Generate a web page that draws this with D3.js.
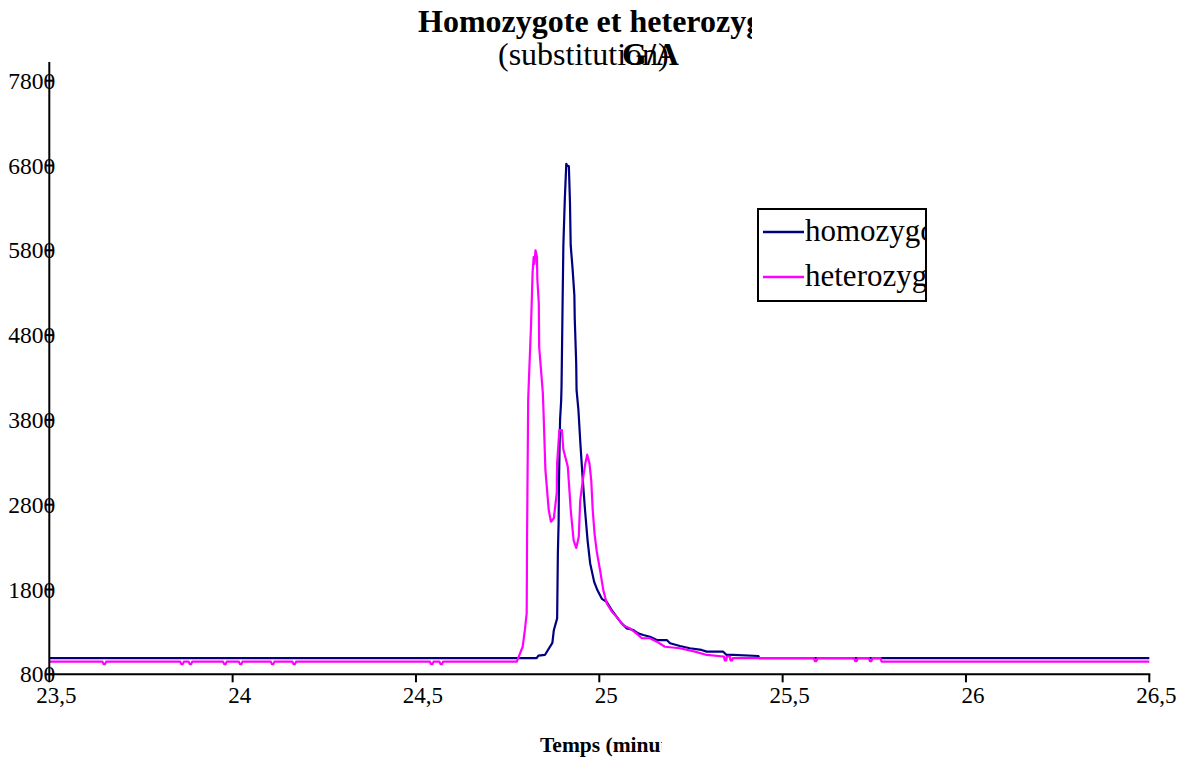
<!DOCTYPE html>
<html><head><meta charset="utf-8">
<script src="https://cdn.jsdelivr.net/npm/d3@7"></script>
<style>
html,body{margin:0;padding:0;background:#fff;}
svg{display:block;}
text{font-family:"Liberation Serif","Times New Roman",serif;fill:#000;}
</style></head>
<body>
<svg id="chart" width="1189" height="759"></svg>
<script>
// ---------- data ----------
const titleLine1 = "Homozygote et heterozygote";
const titleLine2 = "(substitution)";
const titleBold2 = "G/A";
const xTitle = "Temps (minutes)";
const seriesNames = ["homozygote", "heterozygote"];
const seriesColors = ["#000080", "#FF00FF"];
const xTicks = [23.5, 24, 24.5, 25, 25.5, 26, 26.5];
const yTicks = [800, 1800, 2800, 3800, 4800, 5800, 6800, 7800];

const homoTime = [23.5, 24.829, 24.834, 24.852, 24.872, 24.876, 24.885, 24.887, 24.889, 24.890,
  24.893, 24.896, 24.897, 24.898, 24.900, 24.902, 24.906, 24.910, 24.912, 24.917,
  24.920, 24.922, 24.927, 24.932, 24.933, 24.937, 24.938, 24.943, 24.949, 24.955,
  24.961, 24.968, 24.975, 24.986, 24.995, 25.007, 25.020, 25.034, 25.047, 25.061,
  25.075, 25.093, 25.106, 25.120, 25.138, 25.157, 25.184, 25.193, 25.220, 25.247,
  25.279, 25.293, 25.338, 25.347, 25.365, 25.434, 25.436, 26.5];
const homoValue = [990, 990, 1020, 1030, 1170, 1320, 1460, 2230, 2580, 3060,
  3800, 4030, 4190, 4530, 5215, 5860, 6410, 6820, 6800, 6790,
  6370, 5860, 5590, 5270, 5000, 4470, 4150, 3920, 3480, 3090,
  2740, 2380, 2110, 1890, 1790, 1690, 1656, 1558, 1479, 1401,
  1342, 1322, 1283, 1263, 1243, 1204, 1204, 1166, 1134, 1107,
  1087, 1067, 1067, 1028, 1028, 1016, 990, 990];

const heteroTime = [23.5,
  23.645, 23.648, 23.652, 23.655,
  23.857, 23.860, 23.864, 23.867,
  23.880, 23.883, 23.887, 23.890,
  23.974, 23.977, 23.981, 23.984,
  24.017, 24.020, 24.024, 24.027,
  24.104, 24.107, 24.111, 24.114,
  24.163, 24.166, 24.170, 24.173,
  24.538, 24.541, 24.545, 24.548,
  24.564, 24.567, 24.571, 24.574,
  24.775, 24.791, 24.797, 24.802, 24.803, 24.806, 24.808, 24.814, 24.818, 24.821,
  24.823, 24.826, 24.830, 24.831, 24.835, 24.836, 24.846, 24.848, 24.853, 24.862,
  24.868, 24.876, 24.884, 24.885, 24.891, 24.898, 24.902, 24.914, 24.919, 24.922,
  24.930, 24.937, 24.944, 24.948, 24.955, 24.962, 24.967, 24.973, 24.978, 24.982,
  24.987, 24.993, 25.002, 25.011, 25.020, 25.034, 25.047, 25.065, 25.084, 25.102,
  25.116, 25.138, 25.157, 25.179, 25.220, 25.261, 25.293, 25.338,
  25.340, 25.342, 25.346, 25.348, 25.356, 25.358, 25.362, 25.364,
  25.585, 25.588, 25.592, 25.595,
  25.695, 25.698, 25.702, 25.705,
  25.735, 25.738, 25.742, 25.745,
  25.767, 25.770, 26.5];
const heteroValue = [950,
  950, 920, 920, 950,
  950, 920, 920, 950,
  950, 920, 920, 950,
  950, 920, 920, 950,
  950, 920, 920, 950,
  950, 920, 920, 950,
  950, 920, 920, 950,
  950, 920, 920, 950,
  950, 920, 920, 950,
  950, 1125, 1320, 1520, 2420, 4035, 4270, 4940, 5530, 5720,
  5640, 5800, 5720, 5460, 5180, 4660, 4120, 3880, 3210, 2740,
  2600, 2640, 2940, 3290, 3680, 3680, 3450, 3250, 2940, 2740,
  2380, 2290, 2420, 2850, 3090, 3290, 3390, 3290, 3090, 2740,
  2460, 2250, 2030, 1790, 1640, 1540, 1480, 1380, 1340, 1280,
  1225, 1225, 1185, 1125, 1107, 1067, 1028, 1010,
  1010, 965, 965, 1010, 1010, 965, 965, 990,
  990, 955, 955, 990,
  990, 955, 955, 990,
  990, 955, 955, 990,
  990, 950, 950];

// ---------- chart ----------
const svg = d3.select("#chart");
const W = 1189, H = 759;
const plot = {left: 49.3, right: 1149.3, top: 80.7, bottom: 674.3};

const x = d3.scaleLinear().domain([23.5, 26.5]).range([plot.left, plot.right]);
const y = d3.scaleLinear().domain([800, 7800]).range([plot.bottom, plot.top]);

svg.append("rect").attr("width", W).attr("height", H).attr("fill", "#fff");

const defs = svg.append("defs");
defs.append("clipPath").attr("id", "titleClip").append("rect")
  .attr("x", 0).attr("y", 0).attr("width", 752).attr("height", 90);
defs.append("clipPath").attr("id", "legendClip").append("rect")
  .attr("x", 758).attr("y", 209).attr("width", 168).attr("height", 92);
defs.append("clipPath").attr("id", "xTitleClip").append("rect")
  .attr("x", 0).attr("y", 720).attr("width", 662).attr("height", 39);

// series
const homo = homoTime.map((t, i) => [t, homoValue[i]]);
const hetero = heteroTime.map((t, i) => [t, heteroValue[i]]);
const line = d3.line().x(d => x(d[0])).y(d => y(d[1]));

svg.append("path").datum(homo).attr("d", line)
  .attr("fill", "none").attr("stroke", seriesColors[0]).attr("stroke-width", 2.2)
  .attr("stroke-linejoin", "round");
svg.append("path").datum(hetero).attr("d", line)
  .attr("fill", "none").attr("stroke", seriesColors[1]).attr("stroke-width", 2.2)
  .attr("stroke-linejoin", "round");

// y axis
const yAxis = svg.append("g");
yAxis.append("line").attr("x1", plot.left).attr("x2", plot.left)
  .attr("y1", 62).attr("y2", plot.bottom).attr("stroke", "#000").attr("stroke-width", 2);
yAxis.selectAll("line.tick").data(yTicks).enter().append("line")
  .attr("class", "tick")
  .attr("x1", plot.left - 4).attr("x2", plot.left + 4)
  .attr("y1", d => y(d)).attr("y2", d => y(d))
  .attr("stroke", "#000").attr("stroke-width", 2);
yAxis.selectAll("text").data(yTicks).enter().append("text")
  .attr("x", plot.left + 6).attr("y", d => y(d) + 8)
  .attr("text-anchor", "end").attr("font-size", 23.5)
  .text(d => d);

// x axis
const xAxis = svg.append("g");
xAxis.append("line").attr("x1", plot.left).attr("x2", plot.right + 1)
  .attr("y1", plot.bottom).attr("y2", plot.bottom).attr("stroke", "#000").attr("stroke-width", 2);
xAxis.selectAll("line.tick").data(xTicks).enter().append("line")
  .attr("class", "tick")
  .attr("x1", d => x(d)).attr("x2", d => x(d))
  .attr("y1", plot.bottom).attr("y2", plot.bottom + 8)
  .attr("stroke", "#000").attr("stroke-width", 2);
xAxis.selectAll("text").data(xTicks).enter().append("text")
  .attr("x", d => x(d) + 7).attr("y", 703)
  .attr("text-anchor", "middle").attr("font-size", 23)
  .text(d => String(d).replace(".", ","));

// x title
svg.append("g").attr("clip-path", "url(#xTitleClip)")
  .append("text").attr("x", 540).attr("y", 752)
  .attr("font-size", 21.5).attr("font-weight", "bold").text(xTitle);

// title
const tg = svg.append("g").attr("clip-path", "url(#titleClip)");
tg.append("text").attr("x", 418).attr("y", 32)
  .attr("font-size", 32).attr("font-weight", "bold").text(titleLine1);
tg.append("text").attr("x", 498).attr("y", 65)
  .attr("font-size", 32).text(titleLine2);
tg.append("text").attr("x", 622).attr("y", 65)
  .attr("font-size", 32).attr("font-weight", "bold").text(titleBold2);

// legend
const lg = svg.append("g");
lg.append("rect").attr("x", 758).attr("y", 209).attr("width", 168).attr("height", 92)
  .attr("fill", "#fff").attr("stroke", "#000").attr("stroke-width", 2);
const lc = lg.append("g").attr("clip-path", "url(#legendClip)");
seriesNames.forEach((name, i) => {
  const ly = 232 + i * 45;
  lc.append("line").attr("x1", 763).attr("x2", 804).attr("y1", ly).attr("y2", ly)
    .attr("stroke", seriesColors[i]).attr("stroke-width", 2.5);
  lc.append("text").attr("x", 805).attr("y", ly + 9)
    .attr("font-size", 31).text(name);
});
</script>
</body></html>
